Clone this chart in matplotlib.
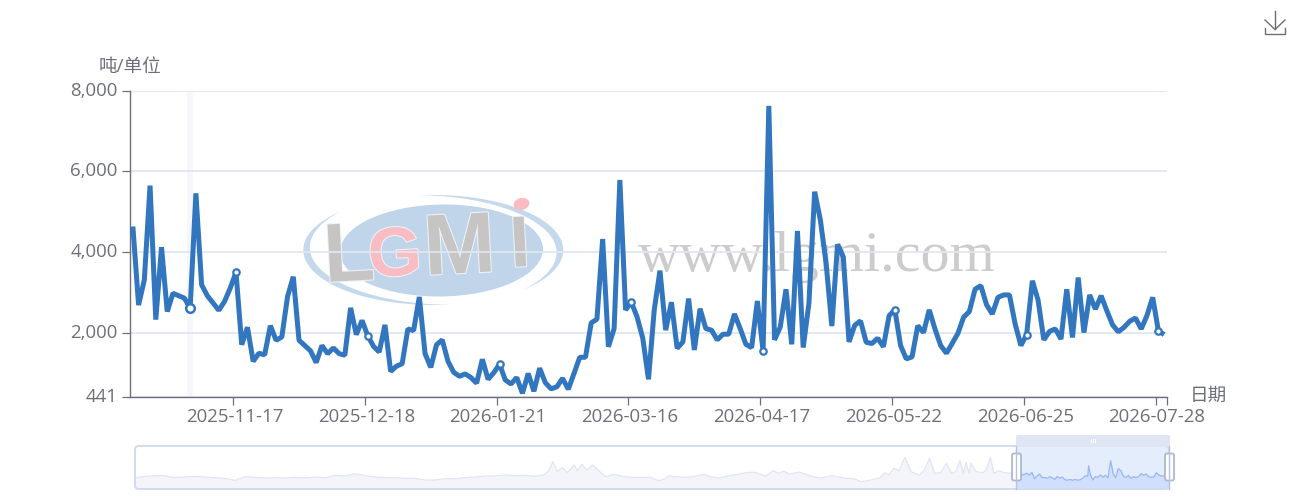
"""Daily tonnage chart with the LGMI watermark and a zoom slider underneath."""
import numpy as np
import matplotlib
matplotlib.use("Agg")
import matplotlib.pyplot as plt
import matplotlib.patheffects as pe
from matplotlib.patches import Ellipse, FancyBboxPatch, Rectangle

plt.rcParams["font.family"] = ["Open Sans", "Noto Sans CJK SC", "DejaVu Sans"]

# ---------------------------------------------------------------------
# data
# ---------------------------------------------------------------------
values = [
    4640, 2700, 3320, 5650, 2340, 4130, 2540, 2990, 2930, 2870,
    2620, 5460, 3200, 2930, 2750, 2570, 2790, 3120, 3510, 1720,
    2150, 1310, 1510, 1470, 2190, 1830, 1910, 2910, 3400, 1830,
    1700, 1570, 1280, 1700, 1500, 1640, 1500, 1460, 2630, 1970,
    2320, 1940, 1680, 1540, 2210, 1060, 1190, 1250, 2110, 2070,
    2900, 1500, 1160, 1720, 1840, 1310, 1040, 940, 1000, 910,
    770, 1360, 865, 1030, 1240, 850, 750, 910, 520, 1010,
    570, 1140, 780, 630, 680, 890, 620, 1010, 1410, 1410,
    2260, 2350, 4330, 1670, 2120, 5790, 2580, 2770, 2410, 1880,
    865, 2580, 3550, 2080, 2770, 1630, 1790, 2860, 1590, 2610,
    2120, 2080, 1840, 1980, 1980, 2480, 2120, 1730, 1650, 2800,
    1570, 7620, 1840, 2160, 3090, 1730, 4530, 1650, 2740, 5500,
    4800, 3730, 2180, 4200, 3890, 1790, 2200, 2310, 1780, 1750,
    1880, 1670, 2440, 2580, 1700, 1370, 1420, 2190, 2020, 2580,
    2110, 1700, 1510, 1750, 2000, 2400, 2540, 3090, 3180, 2710,
    2480, 2890, 2950, 2950, 2230, 1700, 1970, 3300, 2820, 1840,
    2050, 2110, 1860, 3090, 1900, 3380, 2020, 2950, 2600, 2930,
    2560, 2210, 2040, 2150, 2300, 2380, 2110, 2440, 2890, 2060,
    1970,
]
date_index = [18, 41, 64, 87, 110, 133, 156, 179]
date_labels = ["2025-11-17", "2025-12-18", "2026-01-21", "2026-03-16",
               "2026-04-17", "2026-05-22", "2026-06-25", "2026-07-28"]
hover_index = 10
y_ticks = [441, 2000, 4000, 6000, 8000]

# slider shadow: whole history before the selected window
overview_index = [
    0, 12, 24, 35, 47, 59, 71, 83, 95, 106, 118, 130, 142, 154, 166, 177, 189,
    201, 213, 225, 237, 248, 260, 272, 284, 296, 308, 319, 331, 343, 355, 367,
    379, 390, 402, 414, 426, 438, 450, 461, 473, 483, 489, 494, 499, 505, 511,
    519, 523, 528, 534, 541, 548, 556, 566, 578, 589, 609, 619, 625, 631, 637,
    645, 657, 673, 680, 690, 700, 712, 724, 733, 745, 754, 761, 767, 773, 785,
    799, 810, 824, 838, 850, 858, 870, 881, 886, 891, 897, 903, 910, 917, 927,
    933, 939, 945, 952, 959, 965, 970, 975, 979, 982, 986, 988, 994, 1002,
    1006, 1011, 1015, 1021, 1027, 1035, 1041,
]
overview_values = [
    1650, 2120, 2350, 2350, 1650, 1880, 2120, 1880, 1650, 1420, 710, 2000, 1770,
    1530, 1650, 1530, 1770, 1530, 1880, 1650, 2470, 2230, 3050, 2350, 1880, 1650,
    1650, 1420, 1420, 830, 830, 1300, 1300, 1650, 1880, 2230, 2230, 2590, 2350,
    2470, 2120, 2590, 4110, 7270, 3760, 5160, 3400, 6100, 4110, 6330, 4340, 6100,
    4110, 2000, 2820, 2000, 1770, 1770, 600, 1060, 2350, 2000, 1880, 1880, 2820,
    2000, 1530, 2230, 2820, 3520, 3520, 2230, 4110, 3170, 3990, 2820, 3640, 2230,
    1530, 2350, 1530, 1300, 245, 830, 1650, 3400, 2590, 4925, 4110, 8790, 3755,
    2585, 4340, 8435, 3170, 3400, 6680, 3170, 3755, 7620, 3170, 7030, 3170, 6680,
    3755, 3400, 4340, 8790, 3170, 4110, 3400, 3170, 2940,
]
window_start = 1042

W, H = 1296, 501
AXIS = "#6e7079"
LINE = "#3176be"
GRID = "#e0e6f1"
SLIDER = "#d2dbee"
FONT = 13.4


def box(left, top, right, bottom):
    """Pixel box (y down) to figure fractions."""
    return [left / W, 1 - bottom / H, (right - left) / W, (bottom - top) / H]


def crescent(ax, start, stop, thick=8.0):
    """Tapered swoosh along the logo's outer ellipse."""
    deg = np.linspace(start, stop, 90)
    th = np.radians(deg)
    taper = np.sin(np.linspace(0, np.pi, 90))
    cx, cy, a, b = 433.3, 250.0, 130.0, 55.0
    xo, yo = cx + a * np.cos(th), cy - b * np.sin(th)
    xi = cx + (a - thick * taper) * np.cos(th)
    yi = cy - (b - 0.6 * thick * taper) * np.sin(th)
    ax.fill(np.r_[xo, xi[::-1]], np.r_[yo, yi[::-1]], color="#c5d9ec", lw=0)


fig = plt.figure(figsize=(W / 100, H / 100), dpi=100, facecolor="white")

# ---------------------------------------------------------------------
# watermark and other furniture, in pixel coordinates
# ---------------------------------------------------------------------
back = fig.add_axes([0, 0, 1, 1], zorder=0)
back.set_xlim(0, W)
back.set_ylim(H, 0)
back.axis("off")

back.add_patch(Ellipse((441.5, 250.5), 203, 92, angle=-1, fc="#c0d5ea", ec="none"))
crescent(back, 136, 277)
crescent(back, 96, -46)

outline = [pe.withStroke(linewidth=1.5, foreground="#eef3f8")]
for txt, x, y, size, col in [("L", 325, 282, 60, "#c6c5c3"), ("G", 369, 277, 50, "#f9bcc2"),
                             ("M", 425, 275, 62, "#c6c5c3"), ("I", 511, 267, 52, "#c6c5c3")]:
    back.text(x, y, txt, fontsize=size, color=col, family="Liberation Sans", weight="bold",
              ha="left", va="baseline", rotation=3, rotation_mode="anchor", path_effects=outline)
back.add_patch(Ellipse((521.5, 204), 16, 12, angle=-15, fc="#f9bcc2", ec="none"))
back.text(638, 271, "www.lgmi.com", fontsize=41.8, color="#cccccc", family="Liberation Serif",
          ha="left", va="baseline")

back.text(130, 66.5, "吨/单位", fontsize=FONT, color=AXIS, ha="center", va="center")
back.text(1190, 396, "日期", fontsize=FONT, color=AXIS, ha="left", va="center")

# download icon
for xs, ys in [([1275, 1275], [11, 29]), ([1265, 1275, 1285], [20, 29.5, 20]),
               ([1265, 1265, 1285, 1285], [28, 33.5, 33.5, 28])]:
    back.plot(xs, ys, color="#6e6e6e", lw=1.0, solid_joinstyle="miter")

# ---------------------------------------------------------------------
# main line chart
# ---------------------------------------------------------------------
ax = fig.add_axes(box(130, 90.5, 1167, 396.5), zorder=1)
ax.patch.set_alpha(0)
x = np.arange(len(values))
ax.axvspan(hover_index - 0.5, hover_index + 0.5, color="#f6f7fd", lw=0, zorder=0)
ax.plot(x, values, color=LINE, lw=3.6, solid_joinstyle="bevel", solid_capstyle="butt", zorder=3)
ax.plot(date_index, [values[i] for i in date_index], ls="none", marker="o", ms=4.6, mfc="white",
        mec=LINE, mew=1.6, zorder=4, clip_on=False)
ax.plot([hover_index], [values[hover_index]], ls="none", marker="o", ms=6.2, mfc="white",
        mec=LINE, mew=1.8, zorder=4)

ax.set_xlim(-0.5, len(values) - 0.5)
ax.set_ylim(441, 8000)
# ticks sit on the band edges, labels near the band centres
ax.set_xticks([i - 0.25 for i in date_index])
ax.set_xticklabels(date_labels)
ax.set_xticks([i - 0.5 for i in date_index] + [len(values) - 0.5], minor=True)
ax.tick_params(axis="x", which="major", colors=AXIS, labelsize=FONT, length=0, pad=8.2)
ax.tick_params(axis="x", which="minor", color=AXIS, length=5.8, width=0.9)
ax.set_yticks(y_ticks)
ax.set_yticklabels([f"{v:,}" for v in y_ticks], va="center")
ax.tick_params(axis="y", colors=AXIS, labelsize=FONT, length=5.8, width=0.9, pad=3)
ax.grid(axis="y", color=GRID, lw=1.3, zorder=1)
ax.set_axisbelow(True)
for side in ("top", "right"):
    ax.spines[side].set_visible(False)
for side in ("left", "bottom"):
    ax.spines[side].set_color(AXIS)
    ax.spines[side].set_linewidth(1.0)

# ---------------------------------------------------------------------
# zoom slider
# ---------------------------------------------------------------------
mini = fig.add_axes(box(135, 446, 1169, 489), zorder=2)
mini.patch.set_alpha(0)
mini.axis("off")
mini.set_xlim(0, window_start + len(values) - 1)
mini.set_ylim(-2305, 12745)
mini.fill_between(overview_index, overview_values, -2305, color="#f3f5fb", lw=0)
mini.plot(overview_index, overview_values, color="#dfe5f3", lw=0.9)
# the shadow is thinned out, as the slider does it, but keeps the two big spikes
keep = sorted(set(x[::3]) | {85})
window_x = window_start + np.array(keep)
window_y = [values[i] for i in keep]
mini.axvspan(window_start, window_start + len(values) - 1, color="#87aff5", alpha=0.22, lw=0)
mini.fill_between(window_x, window_y, -2305, color="#d0dffb", lw=0)
mini.plot(window_x, window_y, color="#98b6f5", lw=0.9)

top = fig.add_axes([0, 0, 1, 1], zorder=3)
top.patch.set_alpha(0)
top.set_xlim(0, W)
top.set_ylim(H, 0)
top.axis("off")
top.add_patch(FancyBboxPatch((135, 446), 1034, 43, boxstyle="round,pad=0,rounding_size=4",
                             fc="none", ec=SLIDER, lw=1.4))
top.add_patch(FancyBboxPatch((1016, 435), 154, 12, boxstyle="round,pad=0,rounding_size=2",
                             fc="#e0e5f3", ec="none"))
for bar in (1090.5, 1092.5, 1094.5):
    top.add_patch(Rectangle((bar, 438.5), 1, 4, fc="white", ec="none"))
for edge in (1016, 1169):
    top.plot([edge, edge], [446, 489], color="#b7c3da", lw=1.0)
    top.add_patch(FancyBboxPatch((edge - 4, 453.5), 9, 27, boxstyle="round,pad=0,rounding_size=2",
                                 fc="white", ec="#acb8d1", lw=1.3))

fig.savefig("out.png", dpi=100)
plt.close(fig)
